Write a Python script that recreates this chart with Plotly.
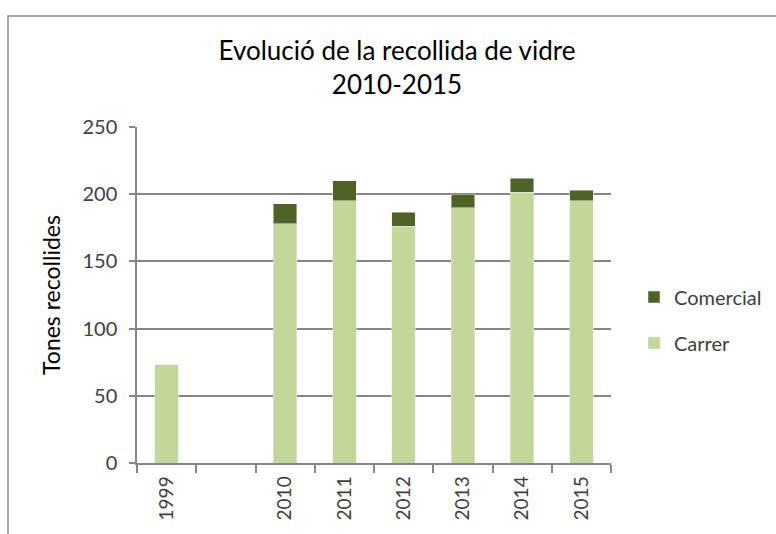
import plotly.graph_objects as go

categories = ["1999", " ", "2010", "2011", "2012", "2013", "2014", "2015"]
carrer = [73, None, 178, 195, 176, 190, 201.5, 195]
comercial = [None, None, 15, 15, 10.5, 10, 10.5, 8]
y_ticks = [0, 50, 100, 150, 200, 250]

FONT = "Lato, Open Sans, sans-serif"
GRID = "#868686"
TXT = "#404040"

fig = go.Figure()
fig.add_trace(go.Bar(x=categories, y=carrer, name="Carrer", marker_color="#C4D79B",
                     legendgroup="a", legendrank=2))
fig.add_trace(go.Bar(x=categories, y=comercial, name="Comercial", marker_color="#4F6228",
                     legendgroup="b", legendrank=1))

W, H = 776, 534
L, R, T, B = 137, 165, 127, 71
pw, ph = W - L - R, H - T - B

def px_x(p):
    return (p - L) / pw

def px_y(p):
    return (H - B - p) / ph

fig.update_layout(
    width=W, height=H,
    margin=dict(l=L, r=R, t=T, b=B, autoexpand=False),
    barmode="stack",
    bargap=0.6,
    paper_bgcolor="white",
    plot_bgcolor="white",
    font=dict(family=FONT, size=18, color=TXT),
    title=dict(
        text="Evolució de la recollida de vidre<br>2010-2015",
        x=px_x(397), xref="paper", xanchor="center",
        y=1 - 60 / H, yref="container", yanchor="top",
        font=dict(family=FONT, size=26, color="#000000"),
    ),
    legend=dict(
        x=px_x(634), y=px_y(320), xanchor="left", yanchor="middle",
        traceorder="grouped", tracegroupgap=17,
        font=dict(family=FONT, size=20, color=TXT),
        itemwidth=30,
    ),
    xaxis=dict(
        type="category",
        categoryorder="array", categoryarray=categories,
        tickson="boundaries",
        ticks="outside", ticklen=8, tickcolor=GRID, tickwidth=1.5,
        showline=True, linecolor=GRID, linewidth=1.5,
        tickangle=-90,
        ticklabelstandoff=4,
        tickfont=dict(family=FONT, size=19, color=TXT),
        showgrid=False,
    ),
    yaxis=dict(
        range=[0, 250],
        tickvals=y_ticks,
        ticks="outside", ticklen=6, tickcolor=GRID, tickwidth=1.5,
        showline=True, linecolor=GRID, linewidth=1.5,
        showgrid=True, gridcolor=GRID, gridwidth=1.5,
        ticklabelstandoff=8,
        tickfont=dict(family=FONT, size=20, color=TXT),
        title=dict(text="Tones recollides", standoff=15,
                   font=dict(family=FONT, size=23, color="#000000")),
        zeroline=False,
    ),
    shapes=[
        dict(type="rect", xref="paper", yref="paper",
             x0=px_x(8), x1=px_x(W + 20), y0=px_y(H + 20), y1=px_y(16),
             line=dict(color="#8c8c8c", width=1.5), fillcolor="rgba(0,0,0,0)",
             layer="below"),
    ],
)

fig.write_html("out.html", config={"displayModeBar": False},
               post_script="document.body.style.margin='0';document.body.style.overflow='hidden';")
